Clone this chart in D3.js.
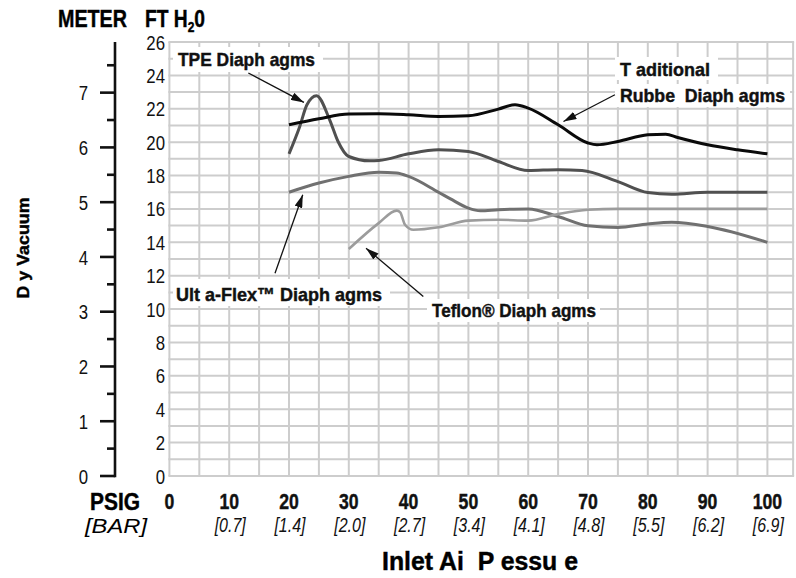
<!DOCTYPE html>
<html>
<head>
<meta charset="utf-8">
<script src="https://cdn.jsdelivr.net/npm/d3@7"></script>
<style>
  html, body { margin: 0; padding: 0; background: #fff; }
  svg { display: block; }
  text { white-space: pre; }
  text.b { stroke: #111; stroke-width: 0.45px; paint-order: stroke; }
</style>
</head>
<body>
<svg id="chart" width="796" height="578"></svg>
<script>
// ---------------- DATA ----------------
const psiTicks = [0, 10, 20, 30, 40, 50, 60, 70, 80, 90, 100];
const barLabels = ["", "[0.7]", "[1.4]", "[2.0]", "[2.7]", "[3.4]", "[4.1]", "[4.8]", "[5.5]", "[6.2]", "[6.9]"];
const ftTicks = [0, 2, 4, 6, 8, 10, 12, 14, 16, 18, 20, 22, 24, 26];
const meterMajor = [0, 1, 2, 3, 4, 5, 6, 7];
const meterMinor = [0.5, 1.5, 2.5, 3.5, 4.5, 5.5, 6.5, 7.5];

// Traditional Rubber Diaphragms
const rubberPsi = [20, 25, 30, 35, 40, 45, 50, 55, 57.8, 60, 65, 70, 71.5, 75, 80, 83, 85, 90, 95, 100];
const rubberFt  = [21.04, 21.4, 21.68, 21.7, 21.64, 21.54, 21.58, 21.98, 22.24, 22.04, 21.04, 19.95, 19.84, 20.04, 20.44, 20.48, 20.28, 19.84, 19.54, 19.3];
// TPE Diaphragms
const tpePsi = [20, 21.8, 23, 24.6, 26.8, 28.2, 30, 33.5, 35, 40, 45, 50, 55, 60, 65, 69, 75, 80, 84, 90, 100];
const tpeFt  = [19.3, 20.94, 22.24, 22.78, 21.34, 20.04, 19.14, 18.88, 18.9, 19.3, 19.54, 19.44, 18.84, 18.3, 18.35, 18.3, 17.64, 16.98, 16.88, 17.0, 17.0];
// Ultra-Flex Diaphragms
const ultraPsi = [20, 25, 30, 35, 38, 40, 45, 47, 50, 52, 55, 60, 65, 70, 75, 80, 84, 90, 100];
const ultraFt  = [17.0, 17.55, 17.95, 18.2, 18.15, 17.95, 17.0, 16.6, 16.05, 15.89, 15.95, 16.0, 15.55, 14.99, 14.89, 15.1, 15.2, 14.95, 14.0];
// Teflon Diaphragms
const teflonPsi = [30, 35, 38, 38.6, 39.4, 40.8, 45, 50, 55, 60, 65, 70, 75, 80, 90, 100];
const teflonFt  = [13.6, 15.15, 15.9, 15.79, 15.05, 14.75, 14.9, 15.3, 15.35, 15.3, 15.69, 15.95, 16.0, 16.0, 16.0, 16.0];

// Annotation labels (lines of text) and arrow anchors in data units [psi, ft]
const labelTexts = [
  ["TPE Diaph agms"],
  ["T aditional", "Rubbe  Diaph agms"],
  ["Ult a-Flex\u2122 Diaph agms"],
  ["Teflon\u00AE Diaph agms"]
];
const arrowTails = [[13.2, 24.14], [74.5, 22.84], [17.66, 12.15], [42.46, 10.75]];
const arrowTips  = [[22.5, 22.38], [65.9, 21.24], [22.3, 16.85], [32.88, 13.65]];

// ---------------- LAYOUT ----------------
const FONT = "'Liberation Sans', Arial, Helvetica, sans-serif";
const SX = 0.8; // horizontal condensing of glyphs
const svg = d3.select("#chart");
const x = d3.scaleLinear().domain([0, 100]).range([169.4, 767.4]);
const y = d3.scaleLinear().domain([0, 26]).range([476, 42]);
const yM = d3.scaleLinear().domain([0, 26 * 0.3048]).range([476, 42]);
const gridRight = x(104.3);
const tr = (px, py) => `translate(${px},${py}) scale(${SX},1)`;

// grid
const grid = svg.append("g").attr("stroke", "#cdcdcd").attr("stroke-width", 2);
grid.selectAll("line.h").data(d3.range(0, 27)).join("line")
  .attr("x1", x(0) - 1).attr("x2", gridRight + 1)
  .attr("y1", d => y(d)).attr("y2", d => y(d));
grid.selectAll("line.v").data(d3.range(0, 101, 5).concat([104.3])).join("line")
  .attr("x1", d => x(d)).attr("x2", d => x(d))
  .attr("y1", y(26)).attr("y2", y(0));

// ft tick labels
svg.append("g").selectAll("text").data(ftTicks).join("text")
  .attr("transform", d => tr(165, y(d))).attr("dy", "0.36em")
  .attr("text-anchor", "end")
  .attr("font-family", FONT).attr("font-size", 21).attr("fill", "#111")
  .text(d => d);

// meter axis
const mAxis = svg.append("g").attr("stroke", "#111").attr("stroke-width", 2.6);
mAxis.append("line").attr("x1", 115).attr("x2", 115).attr("y1", y(26)).attr("y2", y(0) + 1.3);
mAxis.selectAll("line.maj").data(meterMajor).join("line")
  .attr("x1", 100).attr("x2", 115).attr("y1", d => yM(d)).attr("y2", d => yM(d));
mAxis.selectAll("line.min").data(meterMinor).join("line")
  .attr("x1", 107).attr("x2", 115).attr("y1", d => yM(d)).attr("y2", d => yM(d));
svg.append("g").selectAll("text").data(meterMajor).join("text")
  .attr("transform", d => tr(88, yM(d))).attr("dy", "0.36em")
  .attr("text-anchor", "end")
  .attr("font-family", FONT).attr("font-size", 21).attr("fill", "#111")
  .text(d => d);

// header labels
svg.append("text").attr("class", "b").attr("x", 58).attr("y", 27)
  .attr("font-family", FONT).attr("font-size", 24).attr("font-weight", "bold")
  .attr("textLength", 69).attr("lengthAdjust", "spacingAndGlyphs").text("METER");
const fth = svg.append("text").attr("class", "b").attr("transform", tr(145, 27))
  .attr("font-family", FONT).attr("font-size", 24).attr("font-weight", "bold");
fth.append("tspan").text("FT H");
fth.append("tspan").attr("font-size", 15).attr("dy", 5).text("2");
fth.append("tspan").attr("dy", -5).text("0");

// y title
svg.append("text").attr("class", "b")
  .attr("transform", "translate(29,248) rotate(-90)")
  .attr("text-anchor", "middle")
  .attr("font-family", FONT).attr("font-size", 17).attr("font-weight", "bold")
  .attr("textLength", 101).attr("lengthAdjust", "spacingAndGlyphs")
  .text("D y Vacuum");

// x tick labels
svg.append("g").selectAll("text").data(psiTicks).join("text").attr("class", "b")
  .attr("transform", d => tr(x(d), 509))
  .attr("text-anchor", "middle")
  .attr("font-family", FONT).attr("font-size", 22).attr("font-weight", "bold").attr("fill", "#111")
  .text(d => d);
svg.append("g").selectAll("text").data(psiTicks).join("text")
  .attr("transform", d => tr(x(d) + 1, 532))
  .attr("text-anchor", "middle")
  .attr("font-family", FONT).attr("font-size", 20).attr("font-style", "italic").attr("fill", "#111")
  .text((d, i) => barLabels[i]);
svg.append("text").attr("class", "b").attr("x", 90).attr("y", 510)
  .attr("font-family", FONT).attr("font-size", 23).attr("font-weight", "bold")
  .attr("textLength", 50).attr("lengthAdjust", "spacingAndGlyphs").text("PSIG");
svg.append("text").attr("x", 85).attr("y", 533)
  .attr("font-family", FONT).attr("font-size", 20).attr("font-style", "italic")
  .attr("textLength", 62).attr("lengthAdjust", "spacingAndGlyphs").text("[BAR]");
svg.append("text").attr("class", "b").attr("x", 382).attr("y", 570)
  .attr("font-family", FONT).attr("font-size", 25).attr("font-weight", "bold")
  .attr("textLength", 196).attr("lengthAdjust", "spacingAndGlyphs").text("Inlet Ai  P essu e");

// curves
const line = d3.line().x(d => x(d[0])).y(d => y(d[1])).curve(d3.curveMonotoneX);
const series = [
  { psi: ultraPsi, ft: ultraFt, color: "#707070", w: 3 },
  { psi: teflonPsi, ft: teflonFt, color: "#9c9c9c", w: 2.6 },
  { psi: tpePsi, ft: tpeFt, color: "#505050", w: 3 },
  { psi: rubberPsi, ft: rubberFt, color: "#0a0a0a", w: 3 }
];
svg.append("g").selectAll("path").data(series).join("path")
  .attr("fill", "none")
  .attr("stroke", d => d.color).attr("stroke-width", d => d.w)
  .attr("stroke-linejoin", "round").attr("stroke-linecap", "butt")
  .attr("d", d => line(d.psi.map((p, i) => [p, d.ft[i]])));

// annotation boxes + text
const boxes = [
  [[173, 47, 323, 72]],
  [[615, 57, 718, 80], [615, 84, 790, 107]],
  [[173, 279, 390, 306]],
  [[427, 299, 600, 322]]
];
const lines = [
  [[178, 65.5, 137]],
  [[620, 76, 90], [620, 102, 165]],
  [[176, 301, 206]],
  [[432, 317, 164]]
];
const ann = svg.append("g");
boxes.forEach((bs, k) => {
  bs.forEach(b => ann.append("rect").attr("x", b[0]).attr("y", b[1])
    .attr("width", b[2] - b[0]).attr("height", b[3] - b[1]).attr("fill", "#fff"));
  lines[k].forEach((l, j) => ann.append("text").attr("class", "b")
    .attr("x", l[0]).attr("y", l[1])
    .attr("font-family", FONT).attr("font-size", 19).attr("font-weight", "bold").attr("fill", "#111")
    .attr("textLength", l[2]).attr("lengthAdjust", "spacingAndGlyphs")
    .text(labelTexts[k][j]));
});

// arrows
svg.append("defs").append("marker")
  .attr("id", "ah").attr("markerUnits", "userSpaceOnUse")
  .attr("markerWidth", 14).attr("markerHeight", 8)
  .attr("refX", 13).attr("refY", 4).attr("orient", "auto")
  .append("path").attr("d", "M0,0 L13,4 L0,8 Z").attr("fill", "#111");
svg.append("g").selectAll("line").data(arrowTails).join("line")
  .attr("x1", d => x(d[0])).attr("y1", d => y(d[1]))
  .attr("x2", (d, i) => x(arrowTips[i][0])).attr("y2", (d, i) => y(arrowTips[i][1]))
  .attr("stroke", "#111").attr("stroke-width", 1.3)
  .attr("marker-end", "url(#ah)");
</script>
</body>
</html>
